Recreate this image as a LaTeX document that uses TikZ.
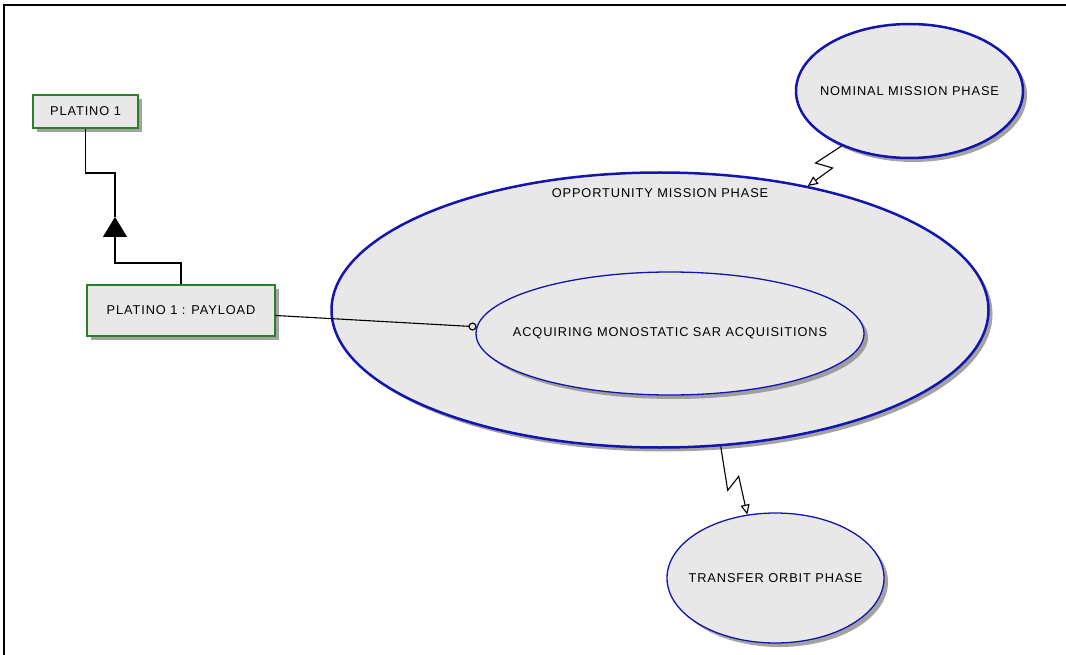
\documentclass[tikz,border=0pt]{standalone}
\usepackage{fontspec}
\setmainfont{Liberation Sans}
\newfontfamily\diagfont[LetterSpace=7]{Liberation Sans}
\usetikzlibrary{shapes.geometric,arrows.meta,shadows,calc}
\definecolor{boxgreen}{RGB}{40,128,40}
\definecolor{ellblue}{RGB}{20,20,175}
\definecolor{nodefill}{RGB}{232,232,232}
\newcommand{\zw}[1]{\makebox[0pt][c]{#1}}
\begin{document}
\begin{tikzpicture}[x=1pt,y=1pt,
  every node/.append style={font=\diagfont\fontsize{12.8}{14}\selectfont, text=black},
  shadowed/.style={drop shadow={shadow xshift=4pt,shadow yshift=-4pt,fill=black!45,opacity=0.8}},
  umlbox/.style={rectangle,draw=boxgreen,fill=nodefill,inner sep=0pt,shadowed},
  phase/.style={ellipse,draw=ellblue,fill=nodefill,inner sep=0pt,shadowed},
  link/.style={draw=black,line width=1.1pt},
  bolt/.style={link,-{Triangle[open,length=10pt,width=9pt]}}]
\useasboundingbox (0,0) rectangle (1066,-655);
\fill[white] (0,0) rectangle (1066,-655);
% frame
\draw[line width=2pt] (4,-655) -- (4,-5) -- (1066,-5);

% boxes
\node[umlbox,line width=2.4pt,minimum width=105pt,minimum height=33pt] (p1) at (85.5,-111.5) {PLATINO 1};
\node[umlbox,line width=1.4pt,minimum width=188pt,minimum height=51pt] (pay) at (181,-310.5) {PLATINO 1 : PAYLOAD};

% ellipses
\node[phase,line width=2.5pt,minimum width=657pt,minimum height=275pt] (opp) at (660,-310) {};
\node[below=14pt] (opplabel) at (opp.north) {OPPORTUNITY MISSION PHASE};
\node[phase,line width=1.3pt,minimum width=388pt,minimum height=123pt] (acq) at (670,-333.5) {\zw{ACQUIRING MONOSTATIC SAR ACQUISITIONS}};
\node[phase,line width=2.5pt,minimum width=227pt,minimum height=134pt] (nom) at (909.5,-91) {\zw{NOMINAL MISSION PHASE}};
\node[phase,line width=1.3pt,minimum width=217pt,minimum height=130pt] (tra) at (775.5,-578) {\zw{TRANSFER ORBIT PHASE}};

% generalisation
\coordinate (k1) at (115,-263);
\coordinate (k2) at (115,-173);
\coordinate (tip) at (115,-217);
\draw[link] (p1.south) |- (k2) -- (tip);
\draw[link,-{Triangle[length=20pt,width=24pt]}] (pay.north) |- (k1) -- (tip);

% payload to acquisitions
\draw[link,-{Circle[open,length=8pt,width=8pt]}] ($(pay.east)+(0,-5)$) -- (acq.178);

% lightning links
\draw[bolt] (nom.219) -- ++(-26,-17) -- ++(17,-5) -- (opp.40);
\draw[bolt] (opp.294.7) -- ++(7,-44) -- ++(11,14) -- (tra.114);
\end{tikzpicture}
\end{document}
